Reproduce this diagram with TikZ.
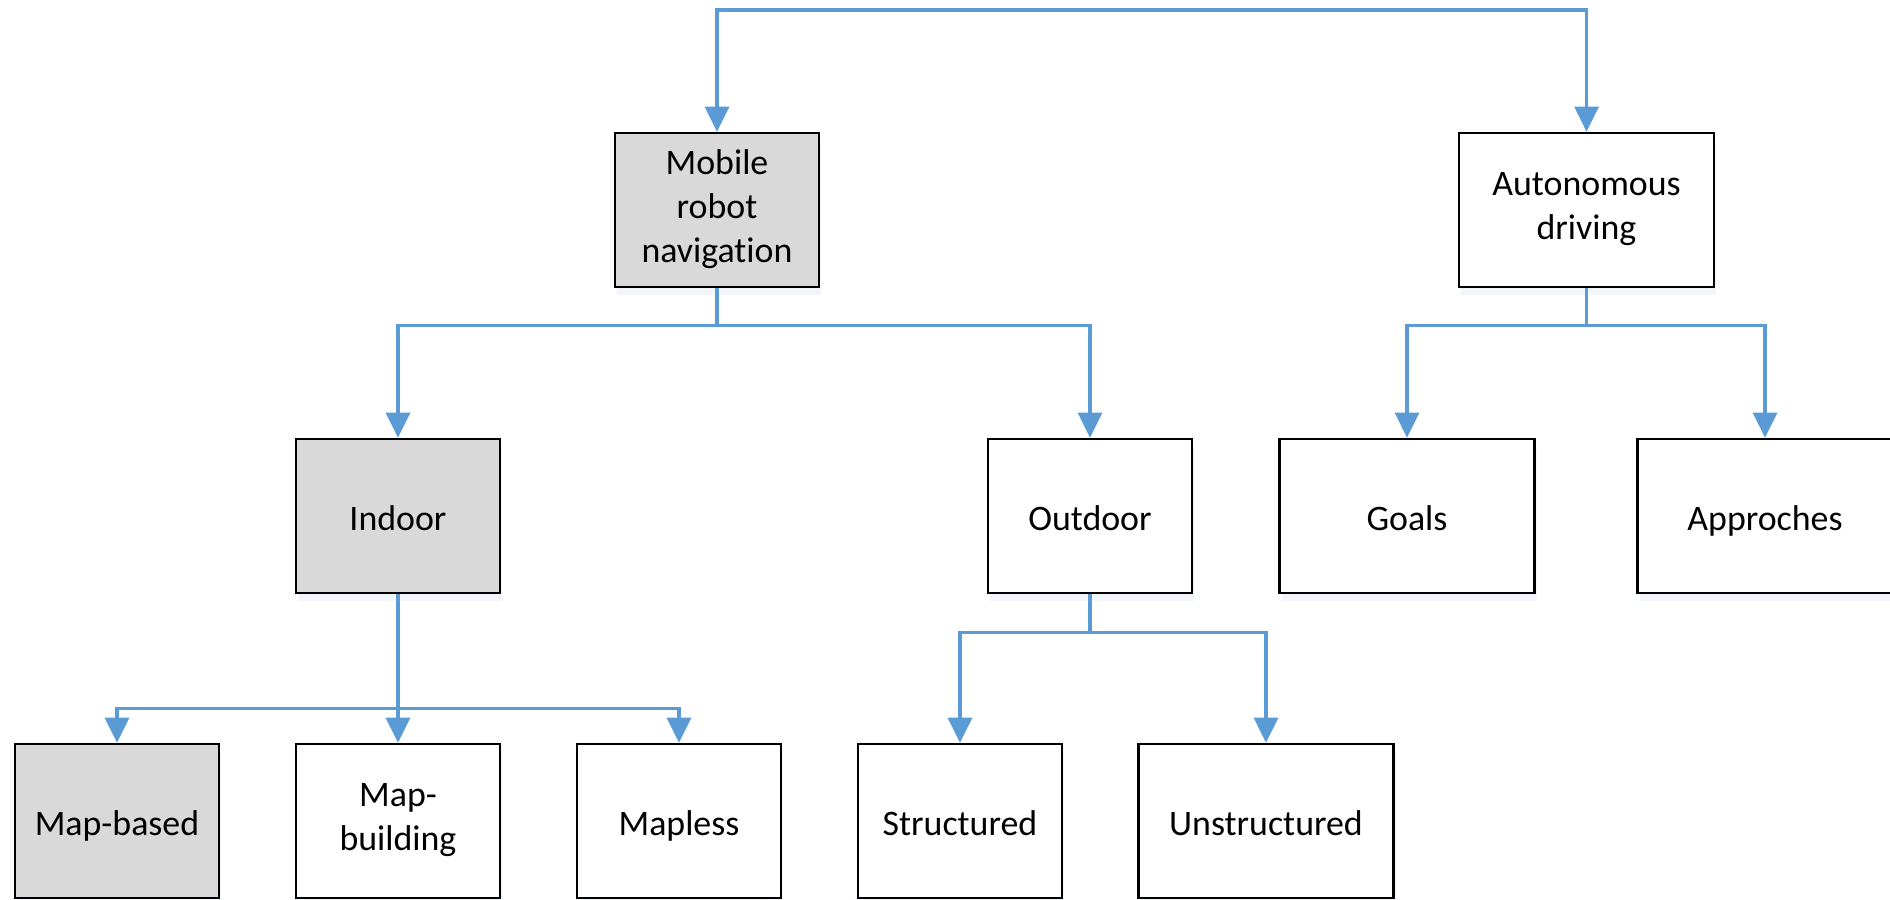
\documentclass[tikz,border=0pt]{standalone}
\usepackage{fontspec}
\setmainfont[Ligatures=NoCommon]{Carlito}
\usepackage{tikz}
\usepackage{xcolor}
\usetikzlibrary{positioning,arrows.meta,calc,shadows}

\definecolor{linkblue}{HTML}{5B9BD5}
\definecolor{boxgrey}{HTML}{D9D9D9}
\definecolor{shadowblue}{HTML}{E6EEF8}
\newcommand{\boxstrut}{\rule[-2.5pt]{0pt}{13.1pt}}

\begin{document}
\begin{tikzpicture}[x=0.01cm, y=-0.01cm,
  block/.style={
    rectangle, draw=black, line width=0.75pt, fill=white,
    minimum width=2.04cm, minimum height=1.54cm, align=center,
    inner sep=2pt, font=\fontsize{10.2}{12.5}\selectfont, drop shadow,
    execute at begin node=\boxstrut, execute at end node=\boxstrut
  },
  wide/.style={
    block, minimum width=2.55cm
  },
  shaded/.style={
    block, fill=boxgrey
  },
  link/.style={
    -{Triangle[width=0.24cm,length=0.25cm]}, line width=0.9pt, color=linkblue
  },
  every shadow/.style={
    shadow xshift=0.6pt,
    shadow yshift=-2.2pt,
    fill=shadowblue
  }
]
\useasboundingbox (0,0) rectangle (1890,899);

% Nodes
\node[shaded] (mobile) at (717,210) {Mobile\\robot\\navigation};
\node[wide] (autonomous) at (1586.5,210) {Autonomous\\driving};

\node[shaded] (indoor) at (398,516) {Indoor};
\node[block] (outdoor) at (1090,516) {Outdoor};
\node[wide] (goals) at (1407,516) {Goals};
\node[wide] (approches) at (1765,516) {Approches};

\node[shaded] (mapbased) at (117,821) {Map-based};
\node[block] (mapbuilding) at (398,821) {Map-\\building};
\node[block] (mapless) at (679,821) {Mapless};
\node[block] (structured) at (960,821) {Structured};
\node[wide] (unstructured) at (1266,821) {Unstructured};

% Edges
\coordinate (top) at (1152,10);
\draw[link] (top) -| (mobile.north);
\draw[link] (top) -| (autonomous.north);

\draw[link] (mobile.south) -- ++(0,37) -| (indoor.north);
\draw[link] (mobile.south) -- ++(0,37) -| (outdoor.north);

\draw[link] (autonomous.south) -- ++(0,37) -| (goals.north);
\draw[link] (autonomous.south) -- ++(0,37) -| (approches.north);

\draw[link] (indoor.south) -- ++(0,114) -| (mapbased.north);
\draw[link] (indoor.south) -- (mapbuilding.north);
\draw[link] (indoor.south) -- ++(0,114) -| (mapless.north);

\draw[link] (outdoor.south) -- ++(0,38) -| (structured.north);
\draw[link] (outdoor.south) -- ++(0,38) -| (unstructured.north);

\end{tikzpicture}
\end{document}
